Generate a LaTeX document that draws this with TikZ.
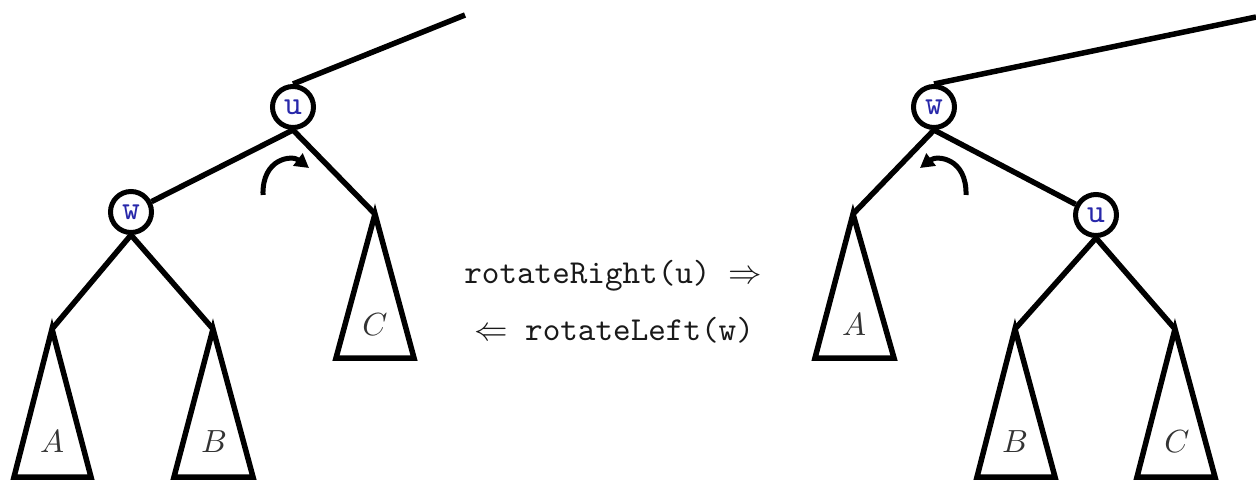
\documentclass[tikz,border=0pt]{standalone}
\usetikzlibrary{arrows.meta}
\definecolor{lblue}{RGB}{40,40,170}
\begin{document}
\begin{tikzpicture}[x=1pt,y=1pt,
  edge/.style={line width=5.5pt},
  tnode/.style={circle, draw, line width=5pt, minimum size=41pt, inner sep=0pt, text=lblue, fill=white},
  subtree/.style={draw, line width=5.5pt, line join=miter},
  lab/.style={scale=3.2, text=black!80},
  optext/.style={scale=3.35, anchor=base, text=black!90, font=\ttfamily},
  rot/.style={line width=5pt, -{Triangle[length=14pt,width=15pt]}}
]
\useasboundingbox (0,0) rectangle (1256,480);
% ---------- left tree ----------
\coordinate (topL) at (465,465);
\node[tnode] (uL) at (293,373) {\scalebox{3.4}{\ttfamily u}};
\node[tnode] (wL) at (131,268) {\scalebox{3.4}{\ttfamily w}};
\coordinate (AaL) at (52,151);
\coordinate (BaL) at (213,151);
\coordinate (CaL) at (375,266);
\draw[edge] (uL.north) -- (topL);
\draw[edge] (uL.south) -- (wL);
\draw[edge] (uL.south) -- (CaL);
\draw[edge] (wL.south) -- (AaL);
\draw[edge] (wL.south) -- (BaL);
\draw[subtree] (AaL) -- (14,3) -- (91,3) -- cycle;
\draw[subtree] (BaL) -- (174,3) -- (253,3) -- cycle;
\draw[subtree] (CaL) -- (336,122) -- (414,122) -- cycle;
\node[lab] (AL) at (52,38) {$A$};
\node[lab] (BL) at (214,38) {$B$};
\node[lab] (CL) at (375,155) {$C$};
\draw[rot] (263,285) .. controls (262,322) and (292,325) .. (309,312);
% ---------- middle text ----------
\node[optext] (rr) at (613,197) {rotateRight(u) $\Rightarrow$};
\node[optext] (rl) at (614,140) {$\Leftarrow$ rotateLeft(w)};
% ---------- right tree ----------
\coordinate (topR) at (1256,463);
\node[tnode] (wR) at (934,373) {\scalebox{3.4}{\ttfamily w}};
\node[tnode] (uR) at (1096,265) {\scalebox{3.4}{\ttfamily u}};
\coordinate (AaR) at (853,266);
\coordinate (BaR) at (1015,151);
\coordinate (CaR) at (1175,151);
\draw[edge] (wR.north) -- (topR);
\draw[edge] (wR.south) -- (AaR);
\draw[edge] (wR.south) -- (uR);
\draw[edge] (uR.south) -- (BaR);
\draw[edge] (uR.south) -- (CaR);
\draw[subtree] (AaR) -- (815,122) -- (894,122) -- cycle;
\draw[subtree] (BaR) -- (977,3) -- (1055,3) -- cycle;
\draw[subtree] (CaR) -- (1137,3) -- (1215,3) -- cycle;
\node[lab] (AR) at (854,155) {$A$};
\node[lab] (BR) at (1015,38) {$B$};
\node[lab] (CR) at (1177,38) {$C$};
\draw[rot] (966,285) .. controls (967,322) and (937,325) .. (920,312);
\end{tikzpicture}
\end{document}
